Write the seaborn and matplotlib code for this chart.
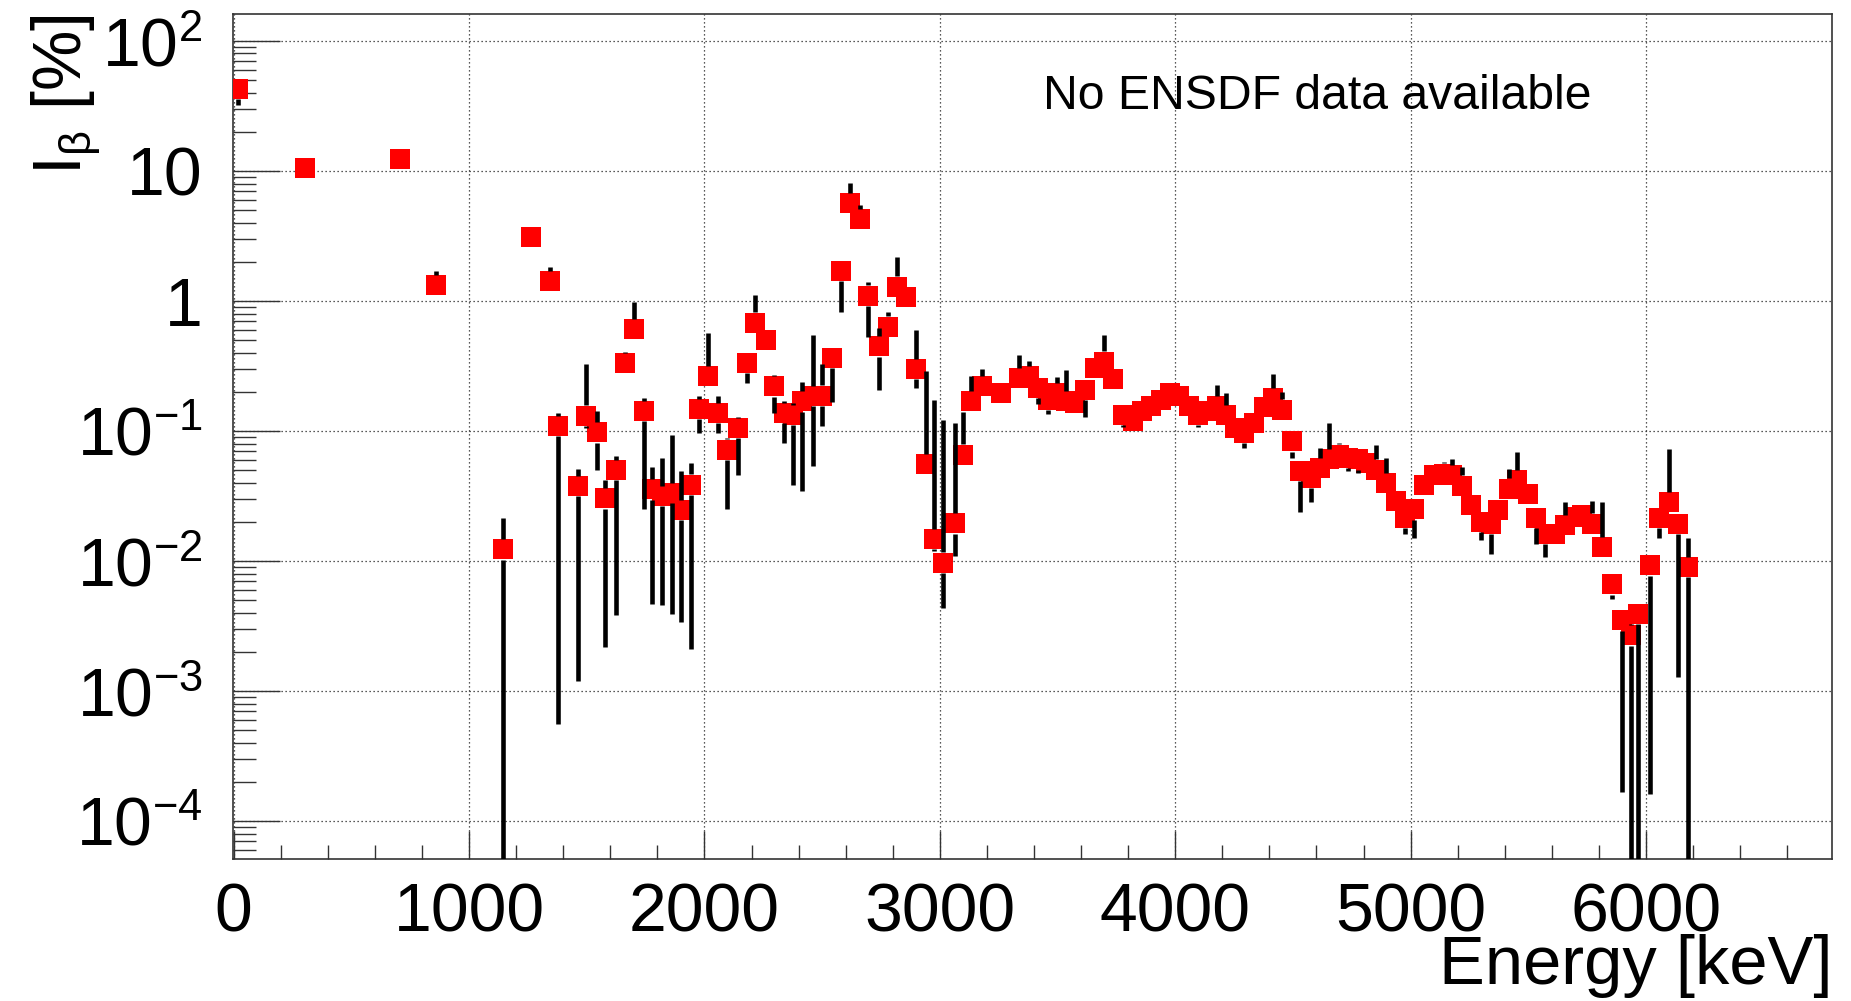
import numpy as np
import matplotlib
matplotlib.use("Agg")
import matplotlib.pyplot as plt
from matplotlib.ticker import FixedLocator, FixedFormatter, MultipleLocator, NullFormatter
import seaborn as sns

try:
    import matplotlib._mathtext as _mt
    _mt.SHRINK_FACTOR = 0.64
except Exception:
    pass

# ---------------- data ----------------
energy = [20, 305, 705, 861, 1143, 1262, 1342, 1379, 1461, 1498, 1542, 1579, 1622, 1661,
          1699, 1743, 1779, 1820, 1860, 1900, 1942, 1977, 2017, 2059, 2095, 2141, 2180,
          2215, 2260, 2297, 2339, 2378, 2416, 2460, 2498, 2540, 2578, 2617, 2659, 2696,
          2741, 2778, 2816, 2858, 2897, 2939, 2976, 3014, 3063, 3099, 3134, 3180, 3260,
          3337, 3378, 3417, 3460, 3499, 3535, 3576, 3615, 3658, 3697, 3736, 3778, 3820,
          3860, 3898, 3941, 3979, 4017, 4057, 4096, 4139, 4178, 4216, 4255, 4294, 4334,
          4376, 4414, 4453, 4495, 4532, 4577, 4617, 4655, 4697, 4733, 4775, 4810, 4853,
          4895, 4937, 4976, 5013, 5055, 5100, 5140, 5177, 5219, 5256, 5297, 5341, 5371,
          5416, 5453, 5498, 5532, 5572, 5613, 5654, 5692, 5729, 5770, 5814, 5855, 5896,
          5934, 5967, 6015, 6054, 6097, 6134, 6180]

intensity = [42.9, 10.6, 12.4, 1.33, 0.0123, 3.12, 1.42, 0.109, 0.0376, 0.131, 0.0977,
             0.0303, 0.0499, 0.333, 0.607, 0.142, 0.0355, 0.0315, 0.0334, 0.0246, 0.0387,
             0.1475, 0.263, 0.137, 0.0719, 0.1055, 0.333, 0.682, 0.502, 0.220, 0.137,
             0.133, 0.169, 0.185, 0.187, 0.367, 1.71, 5.68, 4.26, 1.10, 0.447, 0.635,
             1.29, 1.07, 0.299, 0.0552, 0.0147, 0.0097, 0.0195, 0.0658, 0.169, 0.222,
             0.196, 0.255, 0.263, 0.214, 0.174, 0.196, 0.169, 0.164, 0.208, 0.304, 0.342,
             0.251, 0.133, 0.119, 0.142, 0.155, 0.174, 0.196, 0.185, 0.155, 0.133, 0.142,
             0.155, 0.133, 0.1055, 0.0966, 0.115, 0.152, 0.179, 0.146, 0.0833, 0.0491,
             0.0436, 0.052, 0.0603, 0.0658, 0.0621, 0.0603, 0.0568, 0.0505, 0.0399,
             0.0289, 0.0215, 0.025, 0.0382, 0.0456, 0.047, 0.0456, 0.038, 0.0268, 0.020,
             0.0194, 0.0245, 0.036, 0.0418, 0.033, 0.0214, 0.0162, 0.016, 0.0188, 0.0218,
             0.0224, 0.0194, 0.0128, 0.0066, 0.0035, 0.00268, 0.00394, 0.00927, 0.0214,
             0.0284, 0.0194, 0.0090]

# lower / upper end of each error bar (absolute values)
err_low = [31.9, 10.6, 12.4, 1.33, 1e-6, 3.12, 1.42, 5.6e-4, 1.2e-3, 0.105, 0.0505,
           2.16e-3, 3.83e-3, 0.333, 0.607, 0.0249, 4.7e-3, 4.57e-3, 3.9e-3, 3.37e-3,
           2.1e-3, 0.0966, 0.263, 0.0966, 0.0249, 0.0462, 0.233, 0.565, 0.502, 0.137,
           0.0809, 0.0387, 0.0348, 0.0542, 0.109, 0.166, 0.828, 5.68, 4.26, 0.532, 0.208,
           0.635, 1.29, 1.07, 0.214, 0.0552, 0.0119, 4.38e-3, 0.0109, 0.0658, 0.169,
           0.190, 0.196, 0.255, 0.263, 0.162, 0.136, 0.196, 0.169, 0.164, 0.128, 0.304,
           0.342, 0.251, 0.107, 0.119, 0.142, 0.155, 0.174, 0.196, 0.185, 0.155, 0.107,
           0.142, 0.155, 0.133, 0.1055, 0.0741, 0.115, 0.152, 0.179, 0.146, 0.0621,
           0.0238, 0.0284, 0.052, 0.0603, 0.0658, 0.0491, 0.0476, 0.0568, 0.0505, 0.0399,
           0.0289, 0.016, 0.0149, 0.0382, 0.0456, 0.047, 0.0456, 0.038, 0.0268, 0.0144,
           0.0114, 0.0245, 0.036, 0.0418, 0.033, 0.0136, 0.0107, 0.016, 0.0188, 0.0218,
           0.0224, 0.0194, 0.0128, 5.1e-3, 1.67e-4, 1e-6, 1e-6, 1.62e-4, 0.0149, 0.0284,
           1.28e-3, 1e-6]

err_high = [42.9, 12.8, 12.4, 1.69, 0.0215, 3.12, 1.81, 0.137, 0.051, 0.327, 0.143,
            0.0416, 0.0647, 0.408, 0.988, 0.179, 0.053, 0.062, 0.0937, 0.049, 0.0568,
            0.187, 0.565, 0.185, 0.0884, 0.128, 0.401, 1.11, 0.502, 0.270, 0.169, 0.164,
            0.238, 0.548, 0.327, 0.367, 2.06, 8.09, 5.45, 1.41, 0.617, 0.828, 2.19, 1.07,
            0.599, 0.287, 0.174, 0.122, 0.115, 0.140, 0.263, 0.299, 0.196, 0.385, 0.347,
            0.214, 0.174, 0.259, 0.296, 0.164, 0.208, 0.304, 0.548, 0.251, 0.133, 0.119,
            0.166, 0.182, 0.174, 0.205, 0.218, 0.155, 0.133, 0.142, 0.227, 0.196, 0.1055,
            0.0966, 0.115, 0.152, 0.275, 0.199, 0.0833, 0.0491, 0.0436, 0.0741, 0.115,
            0.0809, 0.0621, 0.0603, 0.0568, 0.0785, 0.0621, 0.0289, 0.0215, 0.025, 0.0382,
            0.0456, 0.0578, 0.0612, 0.0528, 0.0268, 0.020, 0.0194, 0.0245, 0.0513, 0.0689,
            0.033, 0.0214, 0.0162, 0.016, 0.0284, 0.0218, 0.0224, 0.0288, 0.0284, 0.0066,
            4.2e-3, 3.3e-3, 0.00394, 0.00927, 0.0214, 0.0723, 0.0194, 0.0149]

y_ticks = [1e-4, 1e-3, 1e-2, 1e-1, 1, 10, 100]
y_tick_labels = [r"$\mathregular{10^{-4}}$", r"$\mathregular{10^{-3}}$",
                 r"$\mathregular{10^{-2}}$", r"$\mathregular{10^{-1}}$", "1", "10",
                 r"$\mathregular{10^{2}}$"]
x_ticks = [0, 1000, 2000, 3000, 4000, 5000, 6000]
x_tick_labels = ["0", "1000", "2000", "3000", "4000", "5000", "6000"]
x_title = "Energy [keV]"
y_title = r"I$_{\mathregular{\beta}}$ [%]"
note = "No ENSDF data available"

# ---------------- style ----------------
sns.set_theme(style="white")
plt.rcParams["font.family"] = ["Liberation Sans", "DejaVu Sans"]
plt.rcParams["mathtext.fontset"] = "custom"
plt.rcParams["mathtext.rm"] = "Liberation Sans"
plt.rcParams["mathtext.it"] = "Liberation Sans:italic"
plt.rcParams["mathtext.bf"] = "Liberation Sans:bold"
plt.rcParams["mathtext.sf"] = "Liberation Sans"
for key in ["text.color", "axes.labelcolor", "xtick.color", "ytick.color",
            "xtick.labelcolor", "ytick.labelcolor"]:
    plt.rcParams[key] = "black"

W, H = 1851, 1001
fig = plt.figure(figsize=(W / 100, H / 100), dpi=100)
L, R, T, B = 233, 1832, 14, 859
ax = fig.add_axes([L / W, 1 - B / H, (R - L) / W, (B - T) / H])

ax.set_xlim(-3, 6790)
ax.set_yscale("log")
ax.set_ylim(5.1e-5, 161)

df_x = np.array(energy, dtype=float)
df_y = np.array(intensity, dtype=float)
lo = np.array(err_low, dtype=float)
hi = np.array(err_high, dtype=float)

# markers
sns.scatterplot(x=df_x, y=df_y, marker="s", s=222, color="#ff0000", linewidth=0,
                ax=ax, zorder=3, legend=False)

# error bars drawn around the marker (gap of half a marker)
px_per_dec = (B - T) / (np.log10(161) - np.log10(5.1e-5))
gap = 10 ** (10.3 / px_per_dec)
ylow_end = df_y / gap
yup_start = df_y * gap
mlo = lo < ylow_end
mhi = hi > yup_start
ax.vlines(df_x[mlo], lo[mlo], ylow_end[mlo], colors="black", linewidth=3.3, zorder=4)
ax.vlines(df_x[mhi], yup_start[mhi], hi[mhi], colors="black", linewidth=3.3, zorder=4)

# axes / ticks
frame_col = "#333333"
for sp in ax.spines.values():
    sp.set_color(frame_col)
    sp.set_linewidth(1.2)
    sp.set_visible(True)

ax.yaxis.set_major_locator(FixedLocator(y_ticks))
ax.yaxis.set_major_formatter(FixedFormatter(y_tick_labels))
minor_y = [m * 10.0 ** e for e in range(-5, 3) for m in range(2, 10)]
ax.yaxis.set_minor_locator(FixedLocator(minor_y))
ax.yaxis.set_minor_formatter(NullFormatter())
ax.xaxis.set_major_locator(FixedLocator(x_ticks))
ax.xaxis.set_major_formatter(FixedFormatter(x_tick_labels))
ax.xaxis.set_minor_locator(MultipleLocator(200))

ax.tick_params(axis="y", which="major", direction="in", length=34, width=1.0,
               color=frame_col, pad=22, labelsize=49, labelcolor="black",
               left=True, right=False)
ax.tick_params(axis="y", which="minor", direction="in", length=16.5, width=1.0,
               color=frame_col, left=True, right=False)
ax.tick_params(axis="x", which="major", direction="in", length=20, width=1.0,
               color=frame_col, pad=16, labelsize=49, labelcolor="black",
               bottom=True, top=False)
ax.tick_params(axis="x", which="minor", direction="in", length=10, width=1.0,
               color=frame_col, bottom=True, top=False)

ax.grid(True, which="major", linestyle=(0, (1, 2.2)), color="#222222", linewidth=0.9)
ax.grid(False, which="minor")
ax.set_axisbelow(True)

ax.set_xlabel(x_title, fontsize=49.5, loc="right", color="black")
ax.xaxis.set_label_coords(1.0, -0.0885)
ax.set_ylabel(y_title, fontsize=49, loc="top", color="black")
ax.yaxis.set_label_coords(-0.0813, 1.0)

fig.text(1043 / W, 1 - 109 / H, note, fontsize=34.7, ha="left", va="baseline",
         color="black")

fig.savefig("out.png", dpi=100)
